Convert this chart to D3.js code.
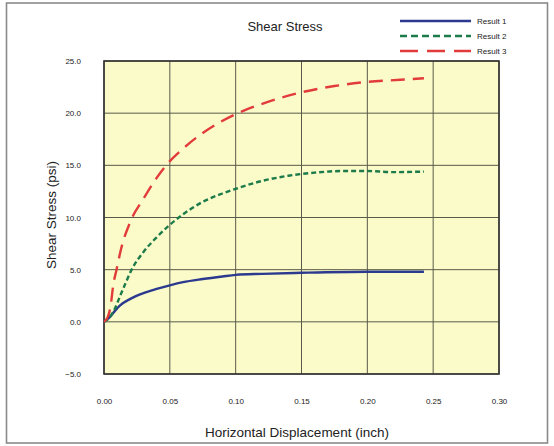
<!DOCTYPE html>
<html>
<head>
<meta charset="utf-8">
<script src="https://cdn.jsdelivr.net/npm/d3@7"></script>
<style>
  html, body { margin: 0; padding: 0; background: #ffffff; }
  svg { display: block; font-family: "Liberation Sans", Arial, sans-serif; }
</style>
</head>
<body>
<svg id="chart" width="554" height="446"></svg>
<script>
// Shear stress vs horizontal displacement, three test results
const xTicks = [0.00, 0.05, 0.10, 0.15, 0.20, 0.25, 0.30];
const yTicks = [-5, 0, 5, 10, 15, 20, 25];

const result1X = [0, 0.004, 0.008, 0.012, 0.02, 0.03, 0.04, 0.05, 0.06, 0.075, 0.09, 0.10, 0.12, 0.15, 0.20, 0.243];
const result1Y = [0, 0.4, 1.0, 1.55, 2.2, 2.75, 3.15, 3.5, 3.8, 4.1, 4.35, 4.5, 4.6, 4.7, 4.8, 4.8];

const result2X = [0, 0.004, 0.008, 0.012, 0.016, 0.021, 0.03, 0.04, 0.05, 0.06, 0.075, 0.09, 0.10, 0.12, 0.14, 0.16, 0.18, 0.20, 0.22, 0.243];
const result2Y = [0, 0.4, 1.2, 2.4, 3.6, 5.0, 6.7, 8.1, 9.3, 10.3, 11.5, 12.3, 12.75, 13.5, 14.0, 14.3, 14.45, 14.45, 14.35, 14.4];

const result3X = [0, 0.003, 0.005, 0.007, 0.0095, 0.013, 0.02, 0.03, 0.04, 0.05, 0.06, 0.075, 0.10, 0.125, 0.15, 0.175, 0.20, 0.225, 0.243];
const result3Y = [0, 0.5, 1.5, 3.5, 5.0, 7.0, 9.6, 11.8, 13.8, 15.4, 16.6, 18.1, 19.9, 21.1, 22.0, 22.6, 23.0, 23.2, 23.35];

const seriesNames = ["Result 1", "Result 2", "Result 3"];
const seriesColors = ["#2b3a8f", "#1d7a4a", "#e23b3b"];
const seriesDash = [null, "5,3", "14,8"];

const series = [
  { name: seriesNames[0], xs: result1X, ys: result1Y },
  { name: seriesNames[1], xs: result2X, ys: result2Y },
  { name: seriesNames[2], xs: result3X, ys: result3Y }
];

const svg = d3.select("#chart");
const plot = { left: 104, right: 499, top: 61, bottom: 374 };

const x = d3.scaleLinear().domain([0, 0.30]).range([plot.left, plot.right]);
const y = d3.scaleLinear().domain([-5, 25]).range([plot.bottom, plot.top]);

// outer frame
svg.append("rect")
  .attr("x", 6.5).attr("y", 3).attr("width", 541).attr("height", 440)
  .attr("fill", "#ffffff").attr("stroke", "#8a8a8a").attr("stroke-width", 1.6);

// plot background
svg.append("rect")
  .attr("x", plot.left).attr("y", plot.top)
  .attr("width", plot.right - plot.left).attr("height", plot.bottom - plot.top)
  .attr("fill", "#fbfbc9");

// grid lines
const grid = svg.append("g").attr("stroke", "#5a5a4a").attr("stroke-width", 1);
grid.selectAll("line.v").data(xTicks).join("line")
  .attr("x1", d => x(d)).attr("x2", d => x(d))
  .attr("y1", plot.top).attr("y2", plot.bottom);
grid.selectAll("line.h").data(yTicks).join("line")
  .attr("x1", plot.left).attr("x2", plot.right)
  .attr("y1", d => y(d)).attr("y2", d => y(d));

// plot border
svg.append("rect")
  .attr("x", plot.left).attr("y", plot.top)
  .attr("width", plot.right - plot.left).attr("height", plot.bottom - plot.top)
  .attr("fill", "none").attr("stroke", "#333333").attr("stroke-width", 1.6);

// axes (labels only, gridlines serve as ticks)
const yAxis = d3.axisLeft(y).tickValues(yTicks).tickFormat(d3.format(".1f")).tickSize(0).tickPadding(23);
svg.append("g").attr("transform", `translate(${plot.left},0)`).call(yAxis)
  .call(g => g.select(".domain").remove())
  .call(g => g.selectAll("text").attr("font-size", 8).attr("fill", "#222")
    .attr("font-family", "Liberation Sans, Arial, sans-serif"));

const xAxis = d3.axisBottom(x).tickValues(xTicks).tickFormat(d3.format(".2f")).tickSize(0).tickPadding(24);
svg.append("g").attr("transform", `translate(0,${plot.bottom})`).call(xAxis)
  .call(g => g.select(".domain").remove())
  .call(g => g.selectAll("text").attr("font-size", 8).attr("fill", "#222")
    .attr("font-family", "Liberation Sans, Arial, sans-serif"));

// series lines
const line = d3.line().x(d => x(d[0])).y(d => y(d[1])).curve(d3.curveMonotoneX);
series.forEach((s, i) => {
  const pts = s.xs.map((v, j) => [v, s.ys[j]]);
  svg.append("path")
    .datum(pts)
    .attr("d", line)
    .attr("fill", "none")
    .attr("stroke", seriesColors[i])
    .attr("stroke-width", 2.4)
    .attr("stroke-dasharray", seriesDash[i]);
});

// titles
svg.append("text").attr("x", 285).attr("y", 31).attr("text-anchor", "middle")
  .attr("font-size", 13).attr("fill", "#222").text("Shear Stress");

svg.append("text").attr("x", 297).attr("y", 437).attr("text-anchor", "middle")
  .attr("font-size", 13.5).attr("fill", "#222").text("Horizontal Displacement (inch)");

svg.append("text").attr("transform", "translate(56,215) rotate(-90)").attr("text-anchor", "middle")
  .attr("font-size", 13.5).attr("fill", "#222").text("Shear Stress (psi)");

// legend
const legend = svg.append("g");
series.forEach((s, i) => {
  const ly = 21 + i * 15;
  legend.append("line")
    .attr("x1", 400).attr("x2", 471).attr("y1", ly).attr("y2", ly)
    .attr("stroke", seriesColors[i]).attr("stroke-width", 2.4)
    .attr("stroke-dasharray", i === 1 ? "7,4" : (i === 2 ? "18,9" : null));
  legend.append("text")
    .attr("x", 477).attr("y", ly + 3)
    .attr("font-size", 8).attr("fill", "#222").text(s.name);
});
</script>
</body>
</html>
